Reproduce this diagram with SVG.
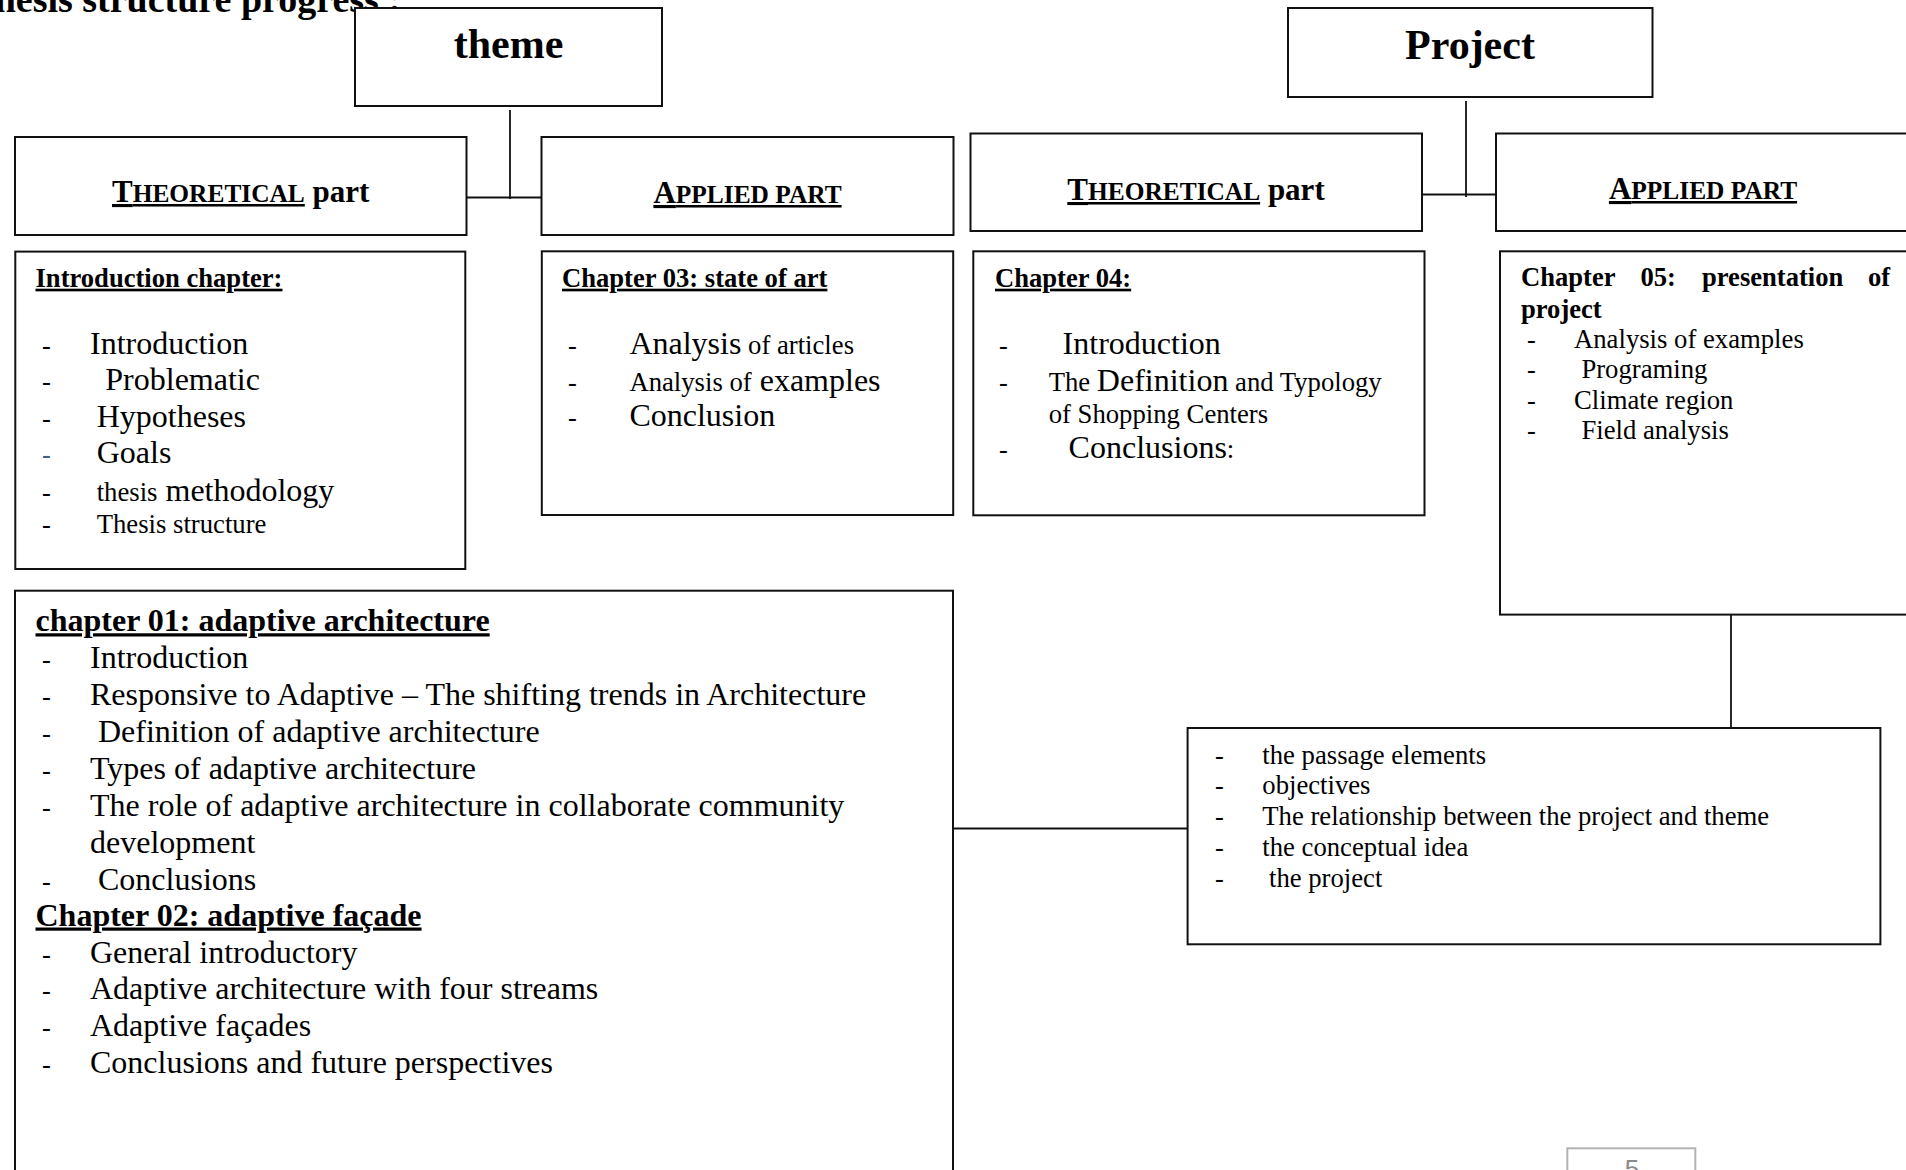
<svg xmlns="http://www.w3.org/2000/svg" width="1906" height="1170" viewBox="0 0 1906 1170">
  <style>
    .box { fill: #fff; stroke: #111; stroke-width: 2; }
    .page { fill: #fff; stroke: #b3b3b3; stroke-width: 2; }
    .conn { stroke: #111; stroke-width: 1.8; fill: none; }
    text { font-family: "Liberation Serif", "Times New Roman", serif; fill: #000; }
    .b { font-weight: bold; }
    .big { font-size: 32px; }
    .sm { font-size: 26.7px; }
    .hd { font-size: 26.6px; font-weight: bold; text-decoration: underline; text-decoration-thickness: 2.4px; }
    .hd1 { font-size: 32px; font-weight: bold; text-decoration: underline; text-decoration-thickness: 2.6px; }
    .lbl { font-size: 31px; font-weight: bold; }
    .sc { font-size: 25.4px; }
    .u { text-decoration: underline; text-decoration-thickness: 3px; }
    .top { font-size: 42px; font-weight: bold; }
    .dash { font-size: 26.4px; }
    .blue { fill: #3f5f8f; }
    .pg { font-family: "Liberation Sans", Arial, sans-serif; font-size: 26px; fill: #8a8a8a; }
  </style>

  <rect width="1906" height="1170" fill="#fff"/>

  <!-- heading running off the top edge -->
  <text x="401" y="12" text-anchor="end" class="b" font-size="38">hesis structure progress :</text>

  <!-- connectors -->
  <g id="connectors">
    <line class="conn" x1="510" y1="110" x2="510" y2="199"/>
    <line class="conn" x1="466.5" y1="197.5" x2="541.5" y2="197.5"/>
    <line class="conn" x1="1466" y1="101" x2="1466" y2="197"/>
    <line class="conn" x1="1422" y1="194.5" x2="1496" y2="194.5"/>
    <line class="conn" x1="1731" y1="614.6" x2="1731" y2="734"/>
    <line class="conn" x1="953" y1="828.5" x2="1187.6" y2="828.5"/>
  </g>

  <!-- top level -->
  <g id="theme">
    <rect class="box" x="355" y="8" width="307" height="98"/>
    <text x="508.5" y="58" text-anchor="middle" class="top">theme</text>
  </g>
  <g id="project">
    <rect class="box" x="1288" y="8" width="364.5" height="89"/>
    <text x="1470" y="59" text-anchor="middle" class="top">Project</text>
  </g>

  <!-- part headers -->
  <g id="theme-theoretical">
    <rect class="box" x="15" y="137" width="451.5" height="98"/>
    <text x="240.7" y="202" text-anchor="middle" class="lbl"><tspan class="u">T<tspan class="sc">HEORETICAL</tspan></tspan> part</text>
  </g>
  <g id="theme-applied">
    <rect class="box" x="541.5" y="137" width="412" height="98"/>
    <text x="747.5" y="203" text-anchor="middle" class="lbl"><tspan class="u">A<tspan class="sc">PPLIED PART</tspan></tspan></text>
  </g>
  <g id="project-theoretical">
    <rect class="box" x="970.5" y="133.5" width="451.5" height="97.5"/>
    <text x="1196" y="200" text-anchor="middle" class="lbl"><tspan class="u">T<tspan class="sc">HEORETICAL</tspan></tspan> part</text>
  </g>
  <g id="project-applied">
    <rect class="box" x="1496" y="133.5" width="440" height="97.5"/>
    <text x="1703" y="199" text-anchor="middle" class="lbl"><tspan class="u">A<tspan class="sc">PPLIED PART</tspan></tspan></text>
  </g>

  <!-- introduction chapter -->
  <g id="intro-chapter">
    <rect class="box" x="15.3" y="251.6" width="450" height="317.4"/>
    <text x="35.5" y="286.7" class="hd">Introduction chapter:</text>
    <text x="42" y="353.8" class="dash">-</text>
    <text x="90" y="353.8" class="big">Introduction</text>
    <text x="42" y="390.3" class="dash">-</text>
    <text x="105.3" y="390.3" class="big">Problematic</text>
    <text x="42" y="427" class="dash">-</text>
    <text x="96.7" y="427" class="big">Hypotheses</text>
    <text x="42" y="463" class="dash blue">-</text>
    <text x="96.7" y="463" class="big">Goals</text>
    <text x="42" y="501" class="dash">-</text>
    <text x="96.7" y="501" class="sm">thesis<tspan class="big"> methodology</tspan></text>
    <text x="42" y="533" class="dash">-</text>
    <text x="96.7" y="533" class="sm">Thesis structure</text>
  </g>

  <!-- chapter 03 -->
  <g id="chapter-03">
    <rect class="box" x="541.8" y="251.3" width="411.4" height="263.7"/>
    <text x="562" y="286.7" class="hd">Chapter 03: state of art</text>
    <text x="568" y="354" class="dash">-</text>
    <text x="629.4" y="354" class="big">Analysis<tspan class="sm"> of articles</tspan></text>
    <text x="568" y="390.5" class="dash">-</text>
    <text x="629.4" y="390.5" class="sm">Analysis of<tspan class="big"> examples</tspan></text>
    <text x="568" y="426" class="dash">-</text>
    <text x="629.4" y="426" class="big">Conclusion</text>
  </g>

  <!-- chapter 04 -->
  <g id="chapter-04">
    <rect class="box" x="973.3" y="251.3" width="451.2" height="264"/>
    <text x="995" y="286.7" class="hd">Chapter 04:</text>
    <text x="999" y="354" class="dash">-</text>
    <text x="1062.6" y="354" class="big">Introduction</text>
    <text x="999" y="390.5" class="dash">-</text>
    <text x="1048.7" y="390.5" class="sm">The <tspan class="big">Definition</tspan> and Typology</text>
    <text x="1048.7" y="422.5" class="sm">of Shopping Centers</text>
    <text x="999" y="457.5" class="dash">-</text>
    <text x="1068.6" y="457.5" class="big">Conclusions<tspan class="sm">:</tspan></text>
  </g>

  <!-- chapter 05 -->
  <g id="chapter-05">
    <rect class="box" x="1500" y="251.3" width="440" height="363.3"/>
    <text y="285.5" class="b" font-size="26.6px"><tspan x="1521">Chapter</tspan><tspan x="1640.5">05:</tspan><tspan x="1702">presentation</tspan><tspan x="1868">of</tspan></text>
    <text x="1521" y="317.5" class="b" font-size="26.6px">project</text>
    <text x="1527" y="347.5" class="dash">-</text>
    <text x="1574" y="347.5" class="sm">Analysis of examples</text>
    <text x="1527" y="378" class="dash">-</text>
    <text x="1581.4" y="378" class="sm">Programing</text>
    <text x="1527" y="409" class="dash">-</text>
    <text x="1574" y="409" class="sm">Climate region</text>
    <text x="1527" y="439" class="dash">-</text>
    <text x="1581.4" y="439" class="sm">Field analysis</text>
  </g>

  <!-- chapters 01 and 02 -->
  <g id="chapters-01-02">
    <rect class="box" x="15" y="590.7" width="938" height="620"/>
    <text x="35.5" y="631.3" class="hd1">chapter 01: adaptive architecture</text>
    <g class="big">
      <text x="42" y="667.5" class="dash">-</text>
      <text x="90" y="667.5">Introduction</text>
      <text x="42" y="704.5" class="dash">-</text>
      <text x="90" y="704.5">Responsive to Adaptive – The shifting trends in Architecture</text>
      <text x="42" y="741.5" class="dash">-</text>
      <text x="98" y="741.5">Definition of adaptive architecture</text>
      <text x="42" y="778.5" class="dash">-</text>
      <text x="90" y="778.5">Types of adaptive architecture</text>
      <text x="42" y="815.5" class="dash">-</text>
      <text x="90" y="815.5">The role of adaptive architecture in collaborate community</text>
      <text x="90" y="852.5">development</text>
      <text x="42" y="889.5" class="dash">-</text>
      <text x="98" y="889.5">Conclusions</text>
    </g>
    <text x="35.5" y="925.5" class="hd1">Chapter 02: adaptive façade</text>
    <g class="big">
      <text x="42" y="962.5" class="dash">-</text>
      <text x="90" y="962.5">General introductory</text>
      <text x="42" y="998.5" class="dash">-</text>
      <text x="90" y="998.5">Adaptive architecture with four streams</text>
      <text x="42" y="1035.5" class="dash">-</text>
      <text x="90" y="1035.5">Adaptive façades</text>
      <text x="42" y="1072.5" class="dash">-</text>
      <text x="90" y="1072.5">Conclusions and future perspectives</text>
    </g>
  </g>

  <!-- project elements -->
  <g id="project-elements">
    <rect class="box" x="1187.6" y="728" width="692.8" height="216.3"/>
    <g class="sm">
      <text x="1215" y="764" class="dash">-</text>
      <text x="1262.3" y="764">the passage elements</text>
      <text x="1215" y="794" class="dash">-</text>
      <text x="1262.3" y="794">objectives</text>
      <text x="1215" y="825" class="dash">-</text>
      <text x="1262.3" y="825">The relationship between the project and theme</text>
      <text x="1215" y="856.3" class="dash">-</text>
      <text x="1262.3" y="856.3">the conceptual idea</text>
      <text x="1215" y="887" class="dash">-</text>
      <text x="1269" y="887">the project</text>
    </g>
  </g>

  <!-- page number -->
  <g id="page-number">
    <rect class="page" x="1567.3" y="1148.3" width="128" height="40"/>
    <text x="1632" y="1178" text-anchor="middle" class="pg">5</text>
  </g>
</svg>
